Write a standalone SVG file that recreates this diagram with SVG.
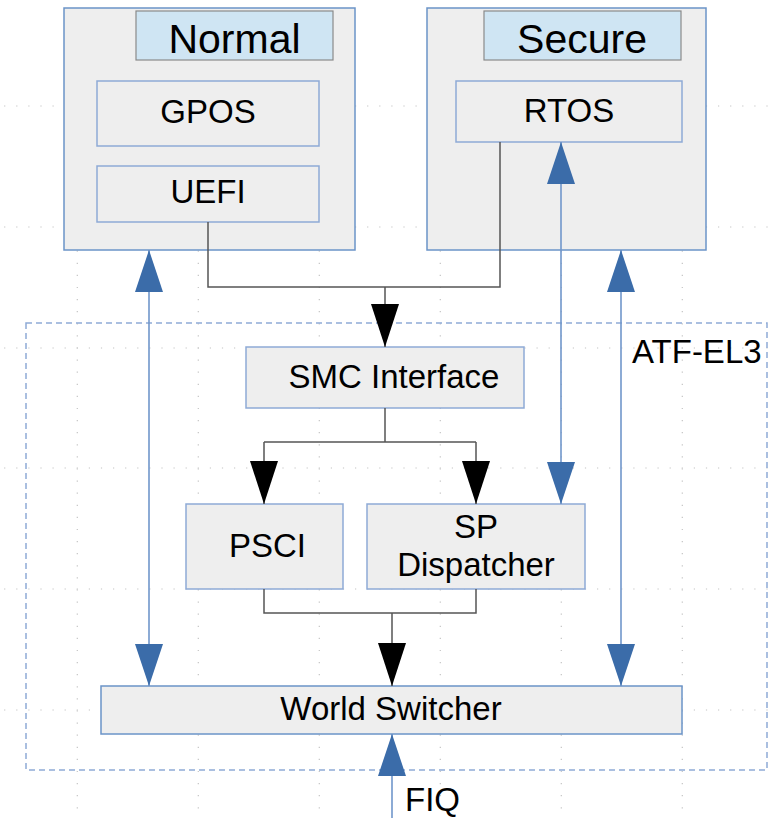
<svg xmlns="http://www.w3.org/2000/svg" width="772" height="818" viewBox="0 0 772 818">
  <style>
    .grid-h { stroke: #c4c4c4; stroke-width: 1.2; stroke-dasharray: 1.2 10.9; stroke-dashoffset: 8; }
    .grid-v { stroke: #c4c4c4; stroke-width: 1.2; stroke-dasharray: 1.2 10.9; stroke-dashoffset: 3.5; }
    .world { fill: #eeeeee; stroke: #6b94c8; stroke-width: 1.5; }
    .tag { fill: #cfe5f3; stroke: #8a8a8a; stroke-width: 1.2; }
    .box { fill: #eeeeee; stroke: #8eaad6; stroke-width: 1.5; }
    .frame { fill: none; stroke: #8eaad6; stroke-width: 1.5; stroke-dasharray: 6 4; }
    .wire { fill: none; stroke: #555555; stroke-width: 1.5; }
    .flow { fill: none; stroke: #555555; stroke-width: 1.5; marker-end: url(#head-black); }
    .link { fill: none; stroke: #7096cb; stroke-width: 1.6; marker-start: url(#head-blue); marker-end: url(#head-blue); }
    .irq { fill: none; stroke: #7096cb; stroke-width: 1.6; marker-end: url(#head-blue); }
    text { font-family: "Liberation Sans", Arial, sans-serif; fill: #000000; }
    .big { font-size: 41px; text-anchor: middle; }
    .lbl { font-size: 33px; text-anchor: middle; }
    .free { font-size: 33px; }
  </style>
  <defs>
    <marker id="head-black" markerUnits="userSpaceOnUse" markerWidth="44" markerHeight="28" refX="43" refY="14" orient="auto-start-reverse">
      <path d="M0,0 L43,14 L0,28 Z" fill="#000000"/>
    </marker>
    <marker id="head-blue" markerUnits="userSpaceOnUse" markerWidth="44" markerHeight="28" refX="42" refY="14" orient="auto-start-reverse">
      <path d="M0,0 L42,14 L0,28 Z" fill="#3b6ca9"/>
    </marker>
  </defs>

  <rect x="0" y="0" width="772" height="818" fill="#ffffff"/>

  <!-- background dot grid -->
  <g id="grid">
    <line class="grid-h" x1="0" y1="106" x2="772" y2="106"/>
    <line class="grid-h" x1="0" y1="227" x2="772" y2="227"/>
    <line class="grid-h" x1="0" y1="348" x2="772" y2="348"/>
    <line class="grid-h" x1="0" y1="468" x2="772" y2="468"/>
    <line class="grid-h" x1="0" y1="589" x2="772" y2="589"/>
    <line class="grid-h" x1="0" y1="710" x2="772" y2="710"/>
    <line class="grid-v" x1="77.3" y1="0" x2="77.3" y2="818"/>
    <line class="grid-v" x1="198.3" y1="0" x2="198.3" y2="818"/>
    <line class="grid-v" x1="319.3" y1="0" x2="319.3" y2="818"/>
    <line class="grid-v" x1="440.3" y1="0" x2="440.3" y2="818"/>
    <line class="grid-v" x1="561.3" y1="0" x2="561.3" y2="818"/>
    <line class="grid-v" x1="682.3" y1="0" x2="682.3" y2="818"/>
  </g>

  <!-- EL3 firmware boundary -->
  <g id="atf-el3">
    <rect class="frame" x="26" y="323" width="741" height="447"/>
    <text class="free" x="632" y="363">ATF-EL3</text>
  </g>

  <g id="normal">
    <rect class="world" x="64" y="8" width="291" height="242"/>
    <rect class="tag" x="136" y="11" width="197" height="49"/>
    <text class="big" x="234.5" y="53">Normal</text>
  </g>
  <g id="gpos">
    <rect class="box" x="97" y="81" width="222" height="65"/>
    <text class="lbl" x="208" y="123">GPOS</text>
  </g>
  <g id="uefi">
    <rect class="box" x="97" y="166" width="222" height="56"/>
    <text class="lbl" x="208" y="203">UEFI</text>
  </g>

  <g id="secure">
    <rect class="world" x="427" y="8" width="279" height="242"/>
    <rect class="tag" x="484" y="11" width="197" height="49"/>
    <text class="big" x="582" y="53">Secure</text>
  </g>
  <g id="rtos">
    <rect class="box" x="456" y="81" width="226" height="61"/>
    <text class="lbl" x="569" y="122">RTOS</text>
  </g>

  <g id="smc-interface">
    <rect class="box" x="246" y="347" width="278" height="61"/>
    <text class="lbl" x="394" y="388">SMC Interface</text>
  </g>
  <g id="psci">
    <rect class="box" x="186" y="504" width="157" height="85"/>
    <text class="lbl" x="267.5" y="557">PSCI</text>
  </g>
  <g id="sp-dispatcher">
    <rect class="box" x="367" y="504" width="218" height="85"/>
    <text class="lbl" x="476" y="538">SP</text>
    <text class="lbl" x="476" y="576">Dispatcher</text>
  </g>
  <g id="world-switcher">
    <rect class="world" x="101" y="686" width="581" height="48"/>
    <text class="lbl" x="391" y="720">World Switcher</text>
  </g>

  <g id="connectors">
    <!-- SMC calls from both worlds -->
    <path class="wire" d="M208,222 V287 H500 V142"/>
    <path class="flow" d="M385,287 V347"/>
    <!-- SMC dispatch -->
    <path class="wire" d="M385,408 V442 M264,442 H476"/>
    <path class="flow" d="M264,442 V504"/>
    <path class="flow" d="M476,442 V504"/>
    <!-- into the world switcher -->
    <path class="wire" d="M264,589 V613 H476 V589"/>
    <path class="flow" d="M392,613 V686"/>
    <!-- world transitions -->
    <path class="link" d="M149,250 V686"/>
    <path class="link" d="M561,142 V504"/>
    <path class="link" d="M621,250 V686"/>
    <!-- secure interrupt -->
    <path class="irq" d="M392,818 V734"/>
    <text class="free" x="405" y="811">FIQ</text>
  </g>
</svg>
